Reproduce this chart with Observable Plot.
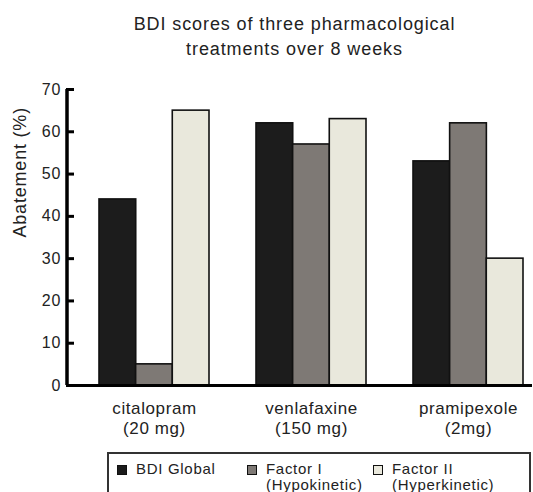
<!DOCTYPE html>
<html>
<head>
<meta charset="utf-8">
<script src="https://cdn.jsdelivr.net/npm/d3@7"></script>
<script src="https://cdn.jsdelivr.net/npm/@observablehq/plot@0.6"></script>
<style>
  html, body { margin: 0; padding: 0; background: #fff; overflow: hidden; }
  body { width: 533px; height: 492px; position: relative; font-family: "Liberation Sans", Arial, Helvetica, sans-serif; color: #222; }
  #title { position: absolute; left: 56px; top: 12px; width: 477px; text-align: center; font-size: 18px; line-height: 25px; letter-spacing: 0.9px; }
  #chart { position: absolute; left: 0; top: 70px; }
  #legend { position: absolute; left: 107px; top: 452px; width: 424px; height: 60px; border: 2px solid #333; box-sizing: border-box; font-size: 15px; line-height: 16px; letter-spacing: 0.7px; }
  .item { position: absolute; top: 7px; }
  .sw { position: absolute; left: 0; top: 4px; width: 8px; height: 8px; border: 1.5px solid #111; }
  .lab { position: absolute; left: 19px; top: 0; white-space: nowrap; }
  g[aria-label="x-axis tick label"] text { letter-spacing: 0.6px; }
  g[aria-label="y-axis tick label"] text { letter-spacing: 1px; }
  g[aria-label="text"] text { letter-spacing: 0.8px; }
</style>
</head>
<body>
<div id="title"></div>
<div id="chart"></div>
<div id="legend"></div>
<script>
const titleLines = ["BDI scores of three pharmacological", "treatments over 8 weeks"];
const drugs = ["citalopram", "venlafaxine", "pramipexole"];
const doses = ["(20 mg)", "(150 mg)", "(2mg)"];
const seriesNames = ["BDI Global", "Factor I", "Factor II"];
const seriesSub = ["", "(Hypokinetic)", "(Hyperkinetic)"];
const bdiGlobal = [44, 62, 53];
const factorI = [5, 57, 62];
const factorII = [65, 63, 30];
const seriesColors = ["#1c1c1c", "#7e7975", "#e9e8dc"];
const yTicks = [0, 10, 20, 30, 40, 50, 60, 70];
const yLabel = "Abatement (%)";

const seriesValues = [bdiGlobal, factorI, factorII];

document.getElementById("title").innerHTML = titleLines.join("<br>");

const W = 533, H = 375;
const mL = 66, mR = 1;
const frameW = W - mL - mR;
const padIn = 0.3, padOut = 0.134;
const step = frameW / (drugs.length - padIn + 2 * padOut);
const bw = step * (1 - padIn);
const sub = bw / seriesValues.length;

const barMarks = seriesValues.map((vals, k) =>
  Plot.barY(drugs.map((d, i) => ({drug: d, value: vals[i]})), {
    x: "drug", y: "value",
    fill: seriesColors[k], stroke: "#111", strokeWidth: 1.6,
    insetLeft: k * sub, insetRight: (seriesValues.length - 1 - k) * sub
  })
);

const plot = Plot.plot({
  width: W, height: H,
  marginLeft: mL, marginRight: mR, marginTop: 19, marginBottom: 60,
  style: {fontFamily: '"Liberation Sans", Arial, Helvetica, sans-serif', color: "#222", background: "#fff", overflow: "visible"},
  x: {domain: drugs, paddingInner: padIn, paddingOuter: padOut, align: 0.79},
  y: {domain: [0, 70]},
  marks: [
    ...barMarks,
    Plot.ruleY([0], {stroke: "#000", strokeWidth: 3}),
    Plot.ruleX([0], {x: null, dx: -frameW / 2 + 0.5, y1: 0, y2: 70, stroke: "#000", strokeWidth: 3.5}),
    Plot.axisY({ticks: yTicks, tickSize: 8, dx: 8, tickPadding: 5, strokeWidth: 3, stroke: "#000", fontSize: 16, label: null}),
    Plot.axisX({tickSize: 0, tickPadding: 14, fontSize: 17, label: null, lineHeight: 1.2,
      tickFormat: d => d + "\n" + doses[drugs.indexOf(d)]}),
    Plot.text([yLabel], {frameAnchor: "left", rotate: -90, dx: -46, fontSize: 18, fill: "#222"})
  ]
});
document.getElementById("chart").appendChild(plot);

const legend = document.getElementById("legend");
const lefts = [8, 138, 264];
seriesNames.forEach((n, k) => {
  const it = document.createElement("div");
  it.className = "item";
  it.style.left = lefts[k] + "px";
  it.innerHTML = `<div class="sw" style="background:${seriesColors[k]}"></div><div class="lab">${n}${seriesSub[k] ? "<br>" + seriesSub[k] : ""}</div>`;
  legend.appendChild(it);
});
</script>
</body>
</html>
